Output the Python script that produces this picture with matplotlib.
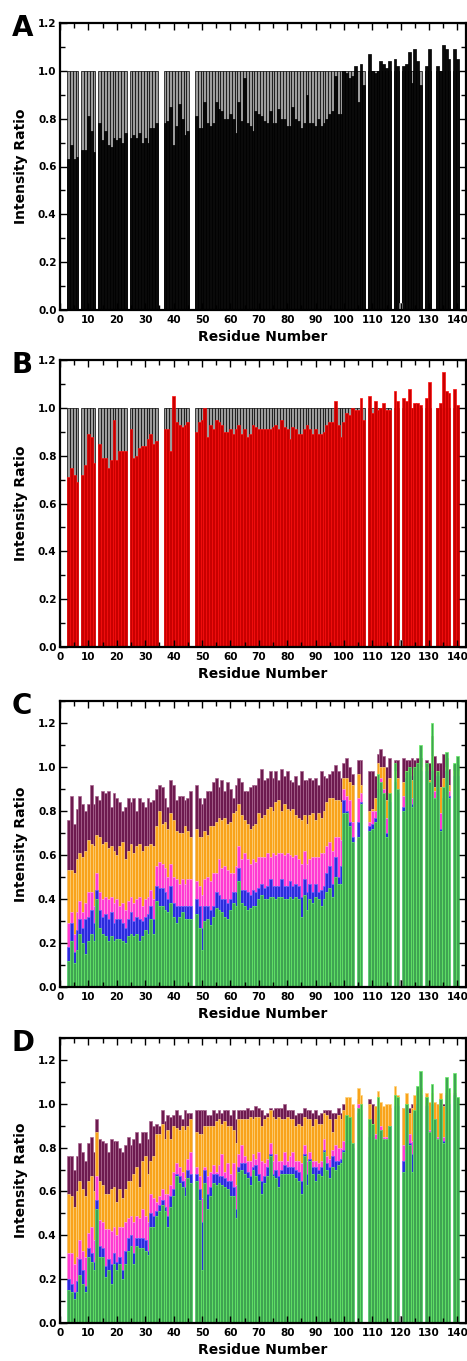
import numpy as np
import matplotlib
matplotlib.use('Agg')
import matplotlib.pyplot as plt
from matplotlib.ticker import FormatStrFormatter

N = np.nan
residues = list(range(3, 141))

# Panel A (black) intensity ratios, residues 3..140
ratio_A = [.63,.69,.63,.64,N,.67,.67,.81,.75,.66,
           N,.78,.71,.75,.69,.68,.72,.71,.72,.70,
           .74,N,.72,.73,.72,.74,.70,.72,.70,.76,
           .76,.78,N,N,.78,.79,.85,.69,.77,.86,
           .80,.73,.75,N,N,.81,.76,.76,.87,.78,
           .77,.78,.87,.84,.83,.80,.80,.82,.80,.74,
           .87,.79,.97,.78,.77,.75,.83,.82,.81,.79,
           .78,.83,.78,.78,.84,.80,.80,.77,.77,.85,
           .80,.79,.76,.78,.90,.78,.78,.77,.80,.77,
           .78,.80,.82,.83,.98,.82,.82,1.00,.99,.97,
           .98,1.02,.87,1.03,.94,N,1.07,1.00,.99,1.00,
           1.04,1.03,1.01,1.04,N,1.05,1.02,N,1.02,1.03,
           1.08,.95,1.09,1.04,.94,N,1.02,1.09,N,N,
           1.02,1.00,1.11,1.09,1.05,N,1.09,1.05]

# Panel B (red)
ratio_B = [.71,.75,.72,.69,N,.72,.76,.89,.88,.77,
           N,.85,.79,.79,.75,.78,.95,.78,.82,.82,
           .82,N,.91,.79,.80,.83,.84,.84,.87,.89,
           .85,.86,N,N,.91,.91,.82,1.05,.94,.93,
           .92,.93,.94,N,N,.90,.94,.95,1.00,.88,
           .93,.91,.95,.94,.93,.90,.90,.91,.89,.91,
           .93,.89,.91,.88,.89,.93,.92,.91,.91,.91,
           .91,.91,.92,.93,.91,.95,.92,.91,.87,.92,
           .91,.89,.89,.91,.93,.91,.89,.91,.89,.89,
           .90,.93,.94,.94,1.03,.93,.88,.94,.98,.97,
           1.00,.99,.99,1.04,.95,N,1.05,.98,1.03,.99,
           1.00,1.02,.99,.99,N,1.07,1.03,N,1.04,1.03,
           1.08,1.00,1.02,1.02,1.01,N,1.04,1.11,N,N,
           1.00,1.02,1.15,1.07,1.06,N,1.08,1.01]

# Panel C series (purple, orange, magenta, blue, green)
C_purple = [.76,.87,.74,.81,.87,.83,.80,.83,.92,.83,
            .87,.85,.89,.88,.89,.82,.88,.86,.84,.80,
            .82,.86,.84,.86,.80,.86,.84,.82,.86,.84,
            .85,.90,.92,.91,.86,.82,.94,.92,.85,.87,
            .87,.85,.86,.89,N,.92,.86,.83,.86,.89,
            .89,.93,.95,.91,.94,.89,.93,.90,.86,.92,
            .95,.93,.89,.89,.91,.92,.92,.95,.99,.94,
            .95,.98,.95,.98,.94,.99,.96,.98,.94,.93,
            .96,.92,.98,.94,.94,.95,.94,.95,.92,.98,
            .96,.95,.97,.98,1.01,.98,.95,1.02,1.04,1.00,
            .97,N,1.03,1.03,N,N,.98,.98,.96,1.06,
            1.08,1.05,1.00,1.04,N,1.03,1.03,N,1.04,1.03,
            1.03,1.04,1.03,1.04,1.04,N,1.03,1.02,1.14,1.05,
            1.02,1.02,1.06,1.04,.99,N,1.01,1.01]
C_orange = [.53,.53,.52,.58,.61,.59,.62,.67,.65,.64,
            .69,.68,.65,.66,.63,.64,.62,.60,.64,.66,
            .58,.62,.65,.61,.64,.65,.62,.64,.64,.65,
            .64,.73,.80,.74,.75,.72,.79,.76,.71,.70,
            .70,.73,.71,.68,N,.72,.68,.68,.71,.69,
            .73,.73,.75,.77,.76,.77,.74,.75,.79,.80,
            .83,.78,.76,.74,.72,.73,.74,.79,.77,.78,
            .81,.82,.80,.84,.85,.80,.83,.81,.80,.81,
            .78,.77,.76,.78,.74,.78,.79,.76,.79,.77,
            .80,.84,.86,.86,.85,.85,.84,.95,.95,.93,
            .92,N,.97,.92,N,N,.80,.81,.86,1.02,
            1.00,1.00,.85,.95,N,.98,.95,N,.93,.98,
            .99,.94,.99,1.00,1.00,N,1.00,.94,1.05,.91,
            .98,.91,.95,1.00,.92,N,.98,.98]
C_magenta = [.29,.34,.24,.34,.39,.34,.38,.43,.43,.37,
             .52,.43,.40,.41,.40,.41,.38,.40,.37,.38,
             .35,.39,.41,.38,.40,.41,.37,.40,.41,.44,
             .40,.55,.57,.56,.54,.50,.56,.50,.49,.47,
             .49,.47,.49,.49,N,.48,.46,.42,.49,.50,
             .48,.52,.52,.58,.54,.55,.53,.52,.52,.55,
             .64,.58,.61,.58,.56,.58,.57,.59,.59,.59,
             .61,.59,.61,.60,.61,.61,.60,.61,.60,.59,
             .60,.58,.56,.62,.56,.58,.59,.59,.59,.61,
             .61,.64,.66,.62,.68,.68,.67,.90,.87,.85,
             .75,N,.86,.88,N,N,.75,.80,.80,.95,
             .95,.90,.77,.85,N,.95,.90,N,.87,.96,
             .97,.86,.97,.99,.99,N,.99,.93,1.00,.89,
             .97,.79,.87,.99,.89,N,.97,.97]
C_blue = [.18,.29,.16,.26,.31,.27,.31,.32,.35,.29,
          .44,.35,.32,.33,.31,.34,.29,.31,.31,.29,
          .27,.31,.34,.30,.32,.31,.30,.32,.33,.37,
          .31,.46,.45,.45,.43,.40,.46,.38,.37,.37,
          .37,.37,.37,.37,N,.40,.37,.27,.37,.37,
          .35,.37,.43,.42,.40,.40,.38,.40,.43,.43,
          .54,.44,.44,.43,.42,.44,.43,.45,.47,.45,
          .46,.49,.46,.46,.46,.49,.46,.46,.48,.46,
          .47,.46,.41,.49,.43,.47,.43,.47,.43,.44,
          .46,.52,.55,.47,.59,.50,.55,.85,.80,.75,
          .68,N,.75,.84,N,N,.73,.74,.77,.90,
          .90,.86,.70,.84,N,.93,.88,N,.82,.95,
          .96,.83,.96,.98,.98,N,.98,.93,.98,.86,
          .96,.72,.86,.98,.87,N,.96,.96]
C_green = [.12,.21,.11,.17,.24,.20,.15,.21,.24,.21,
           .40,.27,.24,.23,.21,.23,.21,.22,.22,.21,
           .20,.23,.24,.23,.24,.21,.23,.26,.24,.31,
           .24,.39,.37,.37,.35,.34,.38,.32,.29,.32,
           .34,.31,.31,.31,N,.33,.27,.17,.30,.31,
           .28,.32,.36,.35,.34,.32,.31,.35,.38,.37,
           .48,.38,.37,.35,.36,.37,.37,.40,.42,.40,
           .40,.41,.41,.40,.41,.41,.40,.40,.41,.40,
           .41,.40,.32,.42,.35,.40,.38,.41,.40,.37,
           .40,.43,.45,.41,.50,.47,.47,.79,.79,.73,
           .66,N,.68,.83,N,N,.71,.72,.75,.97,
           .93,.88,.68,.88,N,1.02,.90,N,.80,.98,
           1.00,.82,1.00,1.02,1.10,N,1.02,.93,1.20,.86,
           .98,.71,.91,1.07,.86,N,1.02,1.05]

# Panel D series
D_purple = [.76,.76,.70,.76,.82,.78,.74,.82,.85,.78,
            .93,.84,.83,.82,.78,.84,.83,.83,.80,.78,
            .81,.85,.81,.84,.87,.82,.87,.87,.84,.92,
            .90,.91,.90,.97,.92,.95,.94,.95,.97,.95,
            .93,.97,.96,.96,N,.97,.97,.97,.97,.95,
            .95,.97,.96,.97,.96,.97,.97,.95,.97,.93,
            .97,.97,.97,.98,.97,.97,.99,.98,.97,.95,
            .96,.98,.97,.98,.98,.98,1.00,.97,.97,.97,
            .95,.96,.96,.98,.97,.97,.96,.97,.95,.96,
            .97,.97,.97,.96,.96,.98,.96,1.00,.99,.97,
            .98,N,1.02,1.00,N,N,1.02,1.00,.99,.99,
            .98,.98,.99,.98,N,1.00,1.00,N,.98,1.00,
            .98,1.00,1.00,1.00,1.00,N,1.00,1.00,1.00,1.00,
            1.00,1.00,1.00,1.00,1.00,N,1.00,1.00]
D_orange = [.59,.58,.53,.60,.65,.61,.58,.65,.67,.60,
            .87,.65,.63,.59,.59,.61,.62,.55,.61,.57,
            .61,.65,.65,.68,.71,.62,.74,.76,.68,.74,
            .76,.86,.86,.91,.84,.88,.84,.90,.89,.88,
            .90,.88,.90,.93,N,.87,.86,.86,.90,.90,
            .90,.90,.92,.93,.91,.92,.90,.90,.88,.82,
            .93,.93,.93,.93,.94,.93,.94,.94,.90,.93,
            .94,.97,.94,.93,.94,.93,.93,.94,.93,.93,
            .90,.91,.90,.94,.93,.93,.90,.93,.91,.91,
            .96,.95,.93,.87,.93,.95,.93,.97,1.03,1.03,
            1.00,N,1.07,1.04,N,N,1.00,.91,.99,1.06,
            1.01,.99,1.00,1.00,N,1.08,1.04,N,.98,1.05,
            .96,.98,1.04,1.06,1.07,N,1.05,1.01,1.05,1.01,
            1.00,1.05,.99,1.05,1.05,N,1.05,1.02]
D_magenta = [.32,.32,.27,.30,.38,.33,.30,.41,.44,.38,
             .67,.47,.46,.43,.43,.42,.44,.40,.44,.44,
             .46,.48,.49,.46,.49,.48,.52,.49,.46,.59,
             .57,.55,.58,.61,.59,.59,.63,.69,.73,.71,
             .69,.66,.75,.78,N,.71,.67,.57,.71,.67,
             .69,.72,.69,.72,.77,.69,.73,.68,.73,.63,
             .77,.81,.76,.74,.74,.77,.75,.78,.74,.73,
             .75,.82,.74,.77,.74,.74,.78,.74,.76,.78,
             .74,.74,.73,.81,.74,.78,.74,.74,.73,.74,
             .84,.76,.75,.79,.81,.80,.80,.83,.85,.86,
             .82,N,1.00,.98,N,N,.87,.88,.86,.98,
             .90,.85,.85,.90,N,1.00,1.00,N,.81,.99,
             .86,.83,.96,1.02,1.05,N,1.00,.88,1.02,.93,
             .85,1.00,.85,1.05,1.02,N,1.05,1.00]
D_blue = [.20,.18,.14,.19,.29,.24,.17,.34,.32,.28,
          .56,.35,.34,.26,.29,.27,.32,.28,.30,.24,
          .33,.39,.40,.32,.39,.39,.39,.38,.33,.50,
          .49,.51,.54,.56,.53,.49,.58,.61,.68,.67,
          .65,.62,.70,.68,N,.68,.61,.46,.70,.59,
          .62,.68,.68,.67,.67,.66,.65,.65,.62,.52,
          .71,.73,.73,.69,.67,.71,.72,.68,.65,.67,
          .71,.77,.68,.70,.67,.70,.72,.71,.71,.71,
          .70,.69,.65,.77,.68,.75,.71,.71,.70,.71,
          .79,.73,.71,.76,.74,.74,.75,.79,.82,.83,
          .80,N,.96,.97,N,N,.85,.85,.84,.97,
          .88,.84,.84,.90,N,.99,.99,N,.74,.98,
          .82,.77,.96,1.00,1.04,N,.99,.87,1.00,.93,
          .84,.99,.83,1.04,1.00,N,1.04,.99]
D_green = [.15,.14,.11,.14,.22,.18,.14,.30,.28,.24,
           .52,.30,.30,.21,.24,.18,.27,.24,.27,.20,
           .27,.33,.35,.27,.35,.34,.34,.33,.31,.44,
           .44,.49,.51,.54,.51,.44,.53,.58,.67,.64,
           .62,.58,.66,.64,N,.65,.56,.24,.64,.52,
           .58,.64,.63,.64,.63,.62,.61,.58,.58,.48,
           .69,.70,.68,.66,.63,.70,.67,.65,.59,.64,
           .67,.76,.67,.66,.62,.68,.68,.68,.68,.68,
           .66,.65,.59,.76,.63,.74,.68,.65,.68,.67,
           .78,.70,.66,.71,.70,.72,.73,.78,.95,.94,
           .82,N,.98,1.00,N,N,.93,.91,.84,1.03,
           .88,.84,.84,.90,N,1.04,1.03,N,.69,1.00,
           .81,.69,.97,1.08,1.15,N,1.03,.87,1.09,.93,
           .84,1.02,.82,1.12,1.07,N,1.14,1.03]

reference_level = 1.0
stub_residues = [120]
stub_values = [0.03]

W, H = 467, 1361
fig = plt.figure(figsize=(W / 100, H / 100), dpi=100)

def add_ax(top, bottom):
    return fig.add_axes([60 / W, 1 - bottom / H, 406 / W, (bottom - top) / H])

def style(ax, ymax):
    ax.set_xlim(0, 143)
    ax.set_ylim(0, ymax)
    ax.set_xticks(range(0, 141, 10))
    ax.set_xticks(range(5, 141, 10), minor=True)
    ax.set_yticks(np.round(np.arange(0, 1.21, 0.2), 1))
    ax.set_yticks(np.round(np.arange(0.1, ymax + 0.001, 0.2), 1), minor=True)
    ax.yaxis.set_major_formatter(FormatStrFormatter('%.1f'))
    ax.tick_params(which='both', direction='in', top=True, right=True, width=1.0)
    ax.tick_params(which='major', length=5, labelsize=7.5, pad=2.5)
    ax.tick_params(which='minor', length=3.5)
    ax.tick_params(axis='x', which='major', pad=3.5)
    for lab in ax.get_xticklabels() + ax.get_yticklabels():
        lab.set_fontweight('bold')
    for sp in ax.spines.values():
        sp.set_linewidth(1.6)
    ax.set_xlabel('Residue Number', fontsize=10, fontweight='bold', labelpad=4)
    ax.set_ylabel('Intensity Ratio', fontsize=10, fontweight='bold', labelpad=7)

res = np.array(residues)

def bars(ax, vals, face, edge, lw=0.5, width=1.0):
    v = np.array(vals, dtype=float)
    m = np.isfinite(v)
    ax.bar(res[m], v[m], width=width, color=face, edgecolor=edge, linewidth=lw)

def stub(ax):
    ax.bar(stub_residues, stub_values, width=1.0, color='#b0b0b0', edgecolor='#909090', linewidth=0.4)

# Panel A
axA = add_ax(23, 310)
a = np.array(ratio_A, dtype=float)
mA = np.isfinite(a)
axA.bar(res[mA], np.full(mA.sum(), reference_level), width=1.0, color='#9c9c9c', edgecolor='black', linewidth=0.5)
bars(axA, ratio_A, '#0a0a0a', 'black')
stub(axA)
style(axA, 1.2)

# Panel B
axB = add_ax(360, 647)
b = np.array(ratio_B, dtype=float)
mB = np.isfinite(b)
axB.bar(res[mB], np.full(mB.sum(), reference_level), width=1.0, color='#9c9c9c', edgecolor='black', linewidth=0.5)
bars(axB, ratio_B, '#c80000', '#ff1010')
stub(axB)
style(axB, 1.2)

series_colors = [('#6d1a4f', '#a8648f'), ('#f9a31b', '#ffd47e'),
                 ('#ff3ad2', '#ff9de9'), ('#2b2bdb', '#6a6aff'),
                 ('#3fa452', '#66ee66')]

axC = add_ax(701, 987)
for vals, (fc, ec) in zip([C_purple, C_orange, C_magenta, C_blue, C_green], series_colors):
    bars(axC, vals, fc, ec, lw=0.5)
stub(axC)
style(axC, 1.3)

axD = add_ax(1038, 1323)
for vals, (fc, ec) in zip([D_purple, D_orange, D_magenta, D_blue, D_green], series_colors):
    bars(axD, vals, fc, ec, lw=0.5)
stub(axD)
style(axD, 1.3)

for letter, top in zip('ABCD', [23, 360, 701, 1038]):
    fig.text(12 / W, 1 - (top + 13) / H, letter, fontsize=20, fontweight='bold',
             ha='left', va='baseline')

fig.savefig('out.png', dpi=100)
